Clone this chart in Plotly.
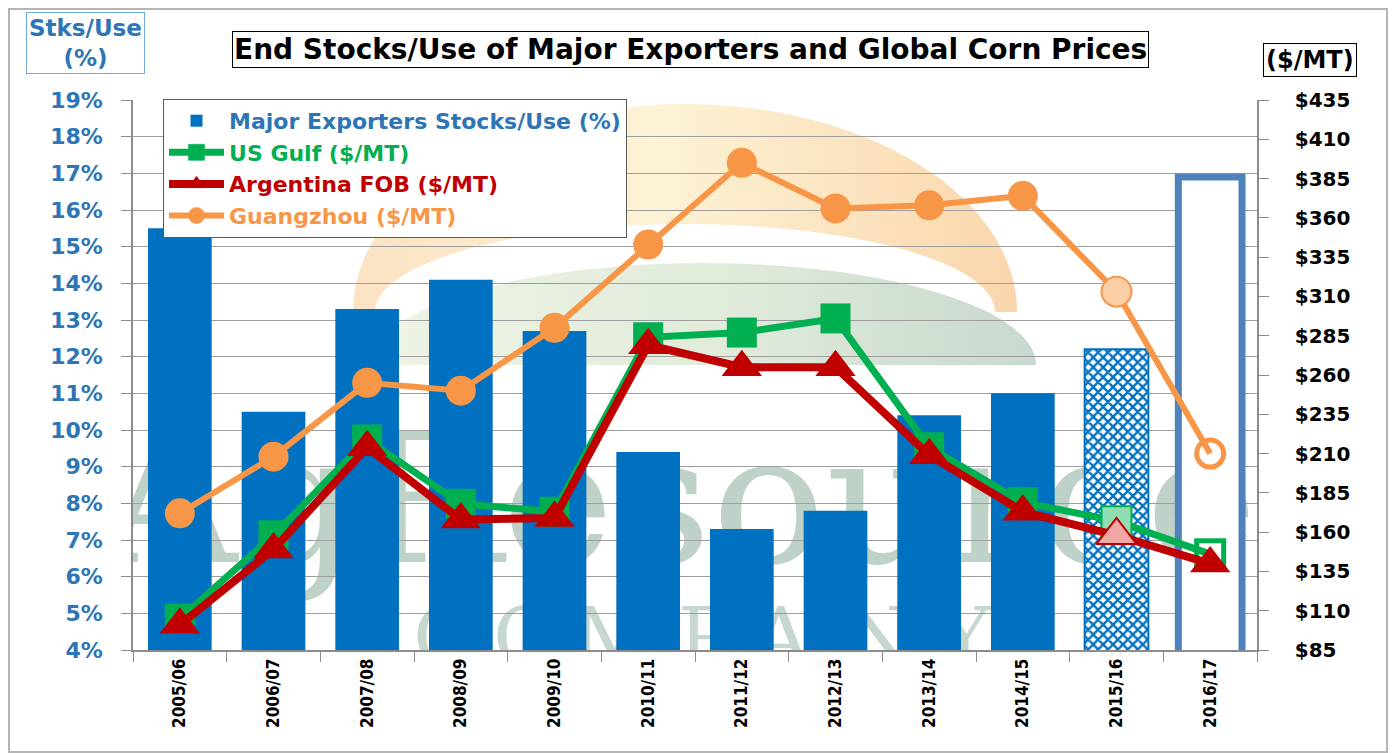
import base64
import plotly.graph_objects as go

# ---------------- data ----------------
categories = ["2005/06", "2006/07", "2007/08", "2008/09", "2009/10", "2010/11",
              "2011/12", "2012/13", "2013/14", "2014/15", "2015/16", "2016/17"]
stocks_use = [15.5, 10.5, 13.3, 14.1, 12.7, 9.4, 7.3, 7.8, 10.4, 11.0, 12.2, 16.9]
us_gulf = [105, 158, 219, 178, 173, 284, 287, 296, 214, 179, 167, 146]
argentina = [101, 149, 214, 168, 169, 279, 265, 265, 209, 173, 158, 140]
guangzhou = [172, 208, 255, 250, 290, 343, 395, 366, 368, 374, 313, 210]

left_ticks = list(range(4, 20))
right_ticks = list(range(85, 436, 25))

# ---------------- styles ----------------
BLUE = "#0070C0"
GREEN = "#00B050"
RED = "#C00000"
ORANGE = "#F79646"
AXBLUE = "#2E75B6"
FONT = "DejaVu Sans, Verdana, sans-serif"
COND = "DejaVu Sans Condensed, Liberation Sans Narrow, Arial Narrow, sans-serif"

n = len(categories)
EST, PROJ = n - 2, n - 1   # estimate (patterned) and projection (outlined) seasons

gulf_colors = [GREEN] * (n - 2) + ["#8FDDB0", "rgba(255,255,255,0)"]
gulf_lw = [0] * (n - 2) + [2, 5]
gulf_size = [30] * (n - 1) + [27]
arg_colors = [RED] * (n - 2) + ["#F2A6A6", RED]
arg_lw = [0] * (n - 2) + [2, 0]
gz_colors = [ORANGE] * (n - 2) + ["#FBCFA6", "rgba(255,255,255,0)"]
gz_lw = [0] * (n - 2) + [2, 5]
gz_size = [30] * (n - 1) + [27]

# ---------------- watermark (drawn behind the data) ----------------
W, H = 1124, 550
svg = f"""<svg xmlns="http://www.w3.org/2000/svg" width="{W}" height="{H}" viewBox="0 0 {W} {H}" preserveAspectRatio="none">
<defs>
<linearGradient id="og" x1="0" y1="0" x2="1" y2="0">
<stop offset="0" stop-color="#FBE2C2"/><stop offset="0.45" stop-color="#FDF3D6"/><stop offset="1" stop-color="#FAD6AC"/>
</linearGradient>
<linearGradient id="gg" x1="0" y1="0" x2="1" y2="0">
<stop offset="0" stop-color="#EEF4E6"/><stop offset="0.5" stop-color="#E2ECDB"/><stop offset="1" stop-color="#C8D9CF"/>
</linearGradient>
</defs>
<path d="M 220 212 A 332 208 0 0 1 884 212 L 862 212 A 310 88 0 0 0 242 212 Z" fill="url(#og)"/>
<path d="M 237 265 A 333 102 0 0 1 903 265 Z" fill="url(#gg)"/>
<text transform="translate(-33,462) scale(1.055,1)" x="0" y="0" font-family="DejaVu Serif, serif" font-size="180" fill="#BFD2C7">AgResource</text>
<text x="280 360 440 545 619 710 805" y="565" font-family="DejaVu Serif, serif" font-size="80" fill="#C6D7CD">COMPANY</text>
</svg>"""
svg_uri = "data:image/svg+xml;base64," + base64.b64encode(svg.encode("utf-8")).decode("ascii")

fig = go.Figure()

# historical seasons (solid bars)
fig.add_trace(go.Bar(
    x=categories[:EST], y=stocks_use[:EST],
    name="<span style='color:#2E75B6'>Major Exporters Stocks/Use (%)</span>",
    width=0.68, marker=dict(color=BLUE, line=dict(width=0)), yaxis="y",
))
# estimate season (checkered)
fig.add_trace(go.Bar(
    x=categories[EST:PROJ], y=stocks_use[EST:PROJ], showlegend=False,
    width=0.68, yaxis="y",
    marker=dict(color="white", line=dict(color=BLUE, width=2),
                pattern=dict(shape="x", fgcolor=BLUE, bgcolor="white",
                             fillmode="replace", size=7, solidity=0.55)),
))
# projection season (outline only)
fig.add_trace(go.Bar(
    x=categories[PROJ:], y=stocks_use[PROJ:], showlegend=False,
    width=0.68, yaxis="y",
    marker=dict(color="white", line=dict(color="#4F81BD", width=7)),
))

fig.add_trace(go.Scatter(
    x=categories, y=us_gulf, name="<span style='color:#00B050'>US Gulf ($/MT)</span>",
    mode="lines+markers", yaxis="y2",
    line=dict(color=GREEN, width=7),
    marker=dict(symbol="square", size=gulf_size, color=gulf_colors, opacity=1,
                line=dict(color=GREEN, width=gulf_lw)),
))

fig.add_trace(go.Scatter(
    x=categories, y=argentina, name="<span style='color:#C00000'>Argentina FOB ($/MT)</span>",
    mode="lines+markers", yaxis="y2",
    line=dict(color=RED, width=8),
    marker=dict(symbol="triangle-up", size=35, color=arg_colors, opacity=1,
                line=dict(color=RED, width=arg_lw)),
))

fig.add_trace(go.Scatter(
    x=categories, y=guangzhou, name="<span style='color:#F79646'>Guangzhou ($/MT)</span>",
    mode="lines+markers", yaxis="y2",
    line=dict(color=ORANGE, width=6),
    marker=dict(symbol="circle", size=gz_size, color=gz_colors, opacity=1,
                line=dict(color=ORANGE, width=gz_lw)),
))

fig.update_layout(
    width=1390, height=745,
    margin=dict(l=125, r=141, t=92, b=103),
    paper_bgcolor="white", plot_bgcolor="white",
    showlegend=True, barmode="overlay",
    legend=dict(x=0.0267, y=1.002, xanchor="left", yanchor="top",
                bgcolor="white", bordercolor="#595959", borderwidth=1,
                font=dict(family=FONT, size=22, weight="bold"),
                tracegroupgap=0, itemwidth=55),
    xaxis=dict(type="category", categoryorder="array", categoryarray=categories,
               range=[-0.5, n - 0.5], tickangle=-90,
               tickfont=dict(family=COND, size=17, color="black", weight="bold"),
               ticks="outside", tickson="boundaries", ticklen=10, tickcolor="#8C8C8C",
               showline=True, linecolor="#8C8C8C", linewidth=1.5, showgrid=False),
    yaxis=dict(range=[4, 19], tickvals=left_ticks, ticktext=[f"{v}%" for v in left_ticks],
               tickfont=dict(family=FONT, size=22, color=AXBLUE, weight="bold"),
               showgrid=True, gridcolor="#9E9E9E", gridwidth=1,
               ticks="outside", ticklen=10, tickcolor="#8C8C8C",
               showline=True, linecolor="#8C8C8C", linewidth=1.5, zeroline=False,
               ticklabelstandoff=14),
    yaxis2=dict(range=[85, 435], overlaying="y", side="right",
                tickvals=right_ticks, ticktext=[f"${v}" for v in right_ticks],
                tickfont=dict(family=FONT, size=20, color="black", weight="bold"),
                showgrid=False, ticks="outside", ticklen=10, tickcolor="#8C8C8C",
                showline=True, linecolor="#8C8C8C", linewidth=1.5, zeroline=False,
                ticklabelstandoff=22),
    images=[dict(source=svg_uri, xref="paper", yref="paper", x=0, y=1,
                 sizex=1, sizey=1, xanchor="left", yanchor="top",
                 sizing="stretch", layer="below")],
    shapes=[dict(type="rect", xref="paper", yref="paper",
                 x0=-0.1103, x1=1.1157, y0=-0.1855, y1=1.1655,
                 line=dict(color="#B4B4B4", width=2), fillcolor="rgba(0,0,0,0)",
                 layer="below")],
    annotations=[
        dict(text="End Stocks/Use of Major Exporters and Global Corn Prices",
             xref="paper", yref="paper", x=0.4964, y=1.0927,
             xanchor="center", yanchor="middle", showarrow=False,
             font=dict(family=FONT, size=28, color="black", weight="bold"),
             bordercolor="black", borderwidth=1, borderpad=1, bgcolor="white"),
        dict(text="Stks/Use<br>(%)",
             xref="paper", yref="paper", x=-0.0427, y=1.1036,
             xanchor="center", yanchor="middle", showarrow=False,
             font=dict(family=FONT, size=23, color=AXBLUE, weight="bold"),
             bordercolor="#6FA8DC", borderwidth=1, borderpad=2, bgcolor="white"),
        dict(text="($/MT)",
             xref="paper", yref="paper", x=1.0472, y=1.0727,
             xanchor="center", yanchor="middle", showarrow=False,
             font=dict(family=FONT, size=24, color="black", weight="bold"),
             bordercolor="black", borderwidth=1, borderpad=2, bgcolor="white"),
    ],
)

fig.write_html("out.html")
